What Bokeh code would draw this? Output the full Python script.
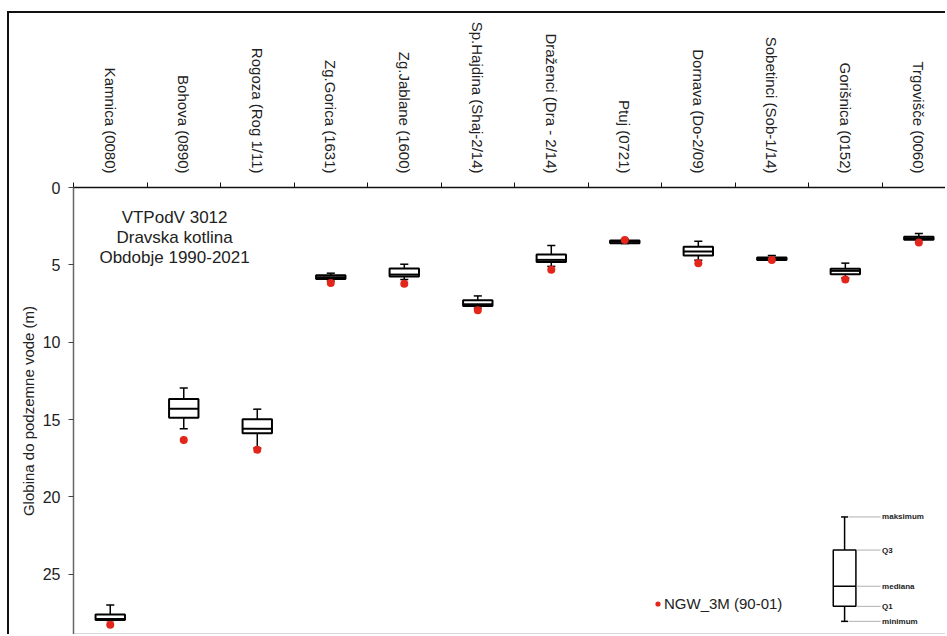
import math
from bokeh.plotting import figure
from bokeh.models import Range1d, FixedTicker, LinearAxis, Label, Legend, LegendItem
from bokeh.embed import file_html
from bokeh.resources import INLINE

# ---------------- data (depth to groundwater, m) ----------------
stations = ["Kamnica (0080)", "Bohova (0890)", "Rogoza (Rog 1/11)", "Zg.Gorica (1631)",
            "Zg.Jablane (1600)", "Sp.Hajdina (Shaj-2/14)", "Draženci (Dra - 2/14)", "Ptuj (0721)",
            "Dornava (Do-2/09)", "Sobetinci (Sob-1/14)", "Gorišnica (0152)", "Trgovišče (0060)"]
whisker_top = [27.00, 12.97, 14.33, 5.54, 4.96, 7.01, 3.75, 3.35, 3.48, 4.40, 4.89, 2.97]
box_top     = [27.60, 13.68, 14.98, 5.67, 5.24, 7.29, 4.33, 3.42, 3.83, 4.52, 5.26, 3.18]
median      = [27.90, 14.31, 15.60, 5.80, 5.63, 7.55, 4.68, 3.50, 4.13, 4.60, 5.39, 3.28]
box_bottom  = [27.96, 14.89, 15.89, 5.91, 5.76, 7.66, 4.81, 3.60, 4.39, 4.68, 5.61, 3.38]
whisker_bot = [28.00, 15.60, 16.85, 6.05, 5.95, 7.80, 5.10, 3.62, 4.70, 4.70, 5.85, 3.40]
ngw_3m      = [28.27, 16.32, 16.95, 6.17, 6.23, 7.94, 5.32, 3.40, 4.89, 4.68, 5.95, 3.55]

y_ticks = [0, 5, 10, 15, 20, 25]
info_lines = ["VTPodV 3012", "Dravska kotlina", "Obdobje 1990-2021"]
y_title = "Globina do podzemne vode (m)"
legend_label = "NGW_3M (90-01)"
key_labels = ["maksimum", "Q3", "mediana", "Q1", "minimum"]
key_values = [21.3, 23.44, 25.78, 27.08, 28.05]

FONT = "Liberation Sans"
TXT = "#222222"
RED = "#e3261b"

n = len(stations)
xc = [i + 0.5 for i in range(n)]
bw = 0.40
cap = 0.055

p = figure(width=938, height=623, output_backend="svg", toolbar_location=None,
           x_range=Range1d(0, 11.89), y_range=Range1d(28.9, 0),
           x_axis_location="above",
           min_border_left=64, min_border_top=174, min_border_bottom=2, min_border_right=0)
p.styles = {"margin-left": "7px", "margin-top": "11px",
            "border-left": "2px solid #111", "border-top": "2px solid #111"}
p.grid.visible = False
p.outline_line_color = None
p.background_fill_color = "white"
p.border_fill_color = "white"

# top category axis
xa = p.xaxis[0]
xa.ticker = FixedTicker(ticks=xc, minor_ticks=list(range(n + 1)))
xa.major_label_overrides = {xc[i]: stations[i] for i in range(n)}
xa.major_label_orientation = -math.pi / 2
xa.major_label_text_font = FONT
xa.major_label_text_font_size = "15px"
xa.major_label_text_color = TXT
xa.major_label_standoff = 9
xa.major_tick_out = 0
xa.major_tick_in = 0
xa.minor_tick_out = 5
xa.minor_tick_in = 0
xa.minor_tick_line_color = "#111111"
xa.axis_line_color = "#111111"
xa.axis_line_width = 1.5

# left axis
ya = p.yaxis[0]
ya.ticker = FixedTicker(ticks=y_ticks, minor_ticks=[])
ya.axis_label = y_title
ya.axis_label_text_font = FONT
ya.axis_label_text_font_size = "15px"
ya.axis_label_text_font_style = "normal"
ya.axis_label_text_color = TXT
ya.axis_label_standoff = 3
ya.major_label_text_font = FONT
ya.major_label_text_font_size = "16px"
ya.major_label_text_color = TXT
ya.major_label_standoff = 8
ya.major_tick_out = 5
ya.major_tick_in = 0
ya.axis_line_color = "#666666"
ya.axis_line_width = 1.5
ya.major_tick_line_color = "#444444"

# bottom frame line
xb = LinearAxis(ticker=FixedTicker(ticks=[], minor_ticks=[]), axis_line_color="#666666",
                axis_line_width=1.5, major_tick_out=0, major_tick_in=0,
                major_label_text_font_size="0px", major_label_standoff=0)
p.add_layout(xb, "below")

# whiskers
p.segment(x0=xc, y0=whisker_top, x1=xc, y1=box_top, line_color="black", line_width=1.5)
p.segment(x0=xc, y0=box_bottom, x1=xc, y1=whisker_bot, line_color="black", line_width=1.5)
p.segment(x0=[x - cap for x in xc], y0=whisker_top, x1=[x + cap for x in xc], y1=whisker_top,
          line_color="black", line_width=1.5)
p.segment(x0=[x - cap for x in xc], y0=whisker_bot, x1=[x + cap for x in xc], y1=whisker_bot,
          line_color="black", line_width=1.5)
# boxes
p.vbar(x=xc, width=bw, top=box_top, bottom=box_bottom, fill_color="white",
       line_color="black", line_width=2)
p.segment(x0=[x - bw / 2 for x in xc], y0=median, x1=[x + bw / 2 for x in xc], y1=median,
          line_color="black", line_width=2)
# NGW points
dots = p.scatter(x=xc, y=ngw_3m, size=8, fill_color=RED, line_color=None)

legend = Legend(items=[LegendItem(label=legend_label, renderers=[dots])],
                location=(578, 22), orientation="vertical",
                glyph_width=13, glyph_height=13, label_standoff=0,
                padding=0, margin=0, spacing=0,
                border_line_color=None, background_fill_alpha=0,
                label_text_font=FONT, label_text_font_size="15px", label_text_color=TXT)
p.add_layout(legend)

# info text
for i, line in enumerate(info_lines):
    p.add_layout(Label(x=1.375, y=1.93 + 1.3 * i, text=line, text_align="center",
                       text_baseline="middle", text_font=FONT, text_font_size="17px",
                       text_color=TXT))

# key diagram (explanation of box elements)
kx = 10.49
khw = 0.154
kcap = 0.048
p.segment(x0=[kx, kx], y0=[key_values[0], key_values[3]], x1=[kx, kx], y1=[key_values[1], key_values[4]],
          line_color="black", line_width=1.5)
p.segment(x0=[kx - kcap, kx - kcap], y0=[key_values[0], key_values[4]],
          x1=[kx + kcap, kx + kcap], y1=[key_values[0], key_values[4]],
          line_color="black", line_width=1.5)
p.quad(left=[kx - khw], right=[kx + khw], top=[key_values[1]], bottom=[key_values[3]],
       fill_color="white", line_color="black", line_width=1.5)
p.segment(x0=[kx - khw], y0=[key_values[2]], x1=[kx + khw], y1=[key_values[2]],
          line_color="black", line_width=1.5)
line_start = [kx + kcap + 0.01, kx + khw + 0.01, kx + khw + 0.01, kx + khw + 0.01, kx + kcap + 0.01]
p.segment(x0=line_start, y0=key_values, x1=[10.98] * 5, y1=key_values,
          line_color="#b0b0b0", line_width=1)
p.text(x=[11.0] * 5, y=key_values, text=key_labels, text_font_size="8px",
       text_font_style="bold", text_color=TXT, text_baseline="middle", text_align="left")

open("out.html", "w").write(file_html(p, INLINE))
